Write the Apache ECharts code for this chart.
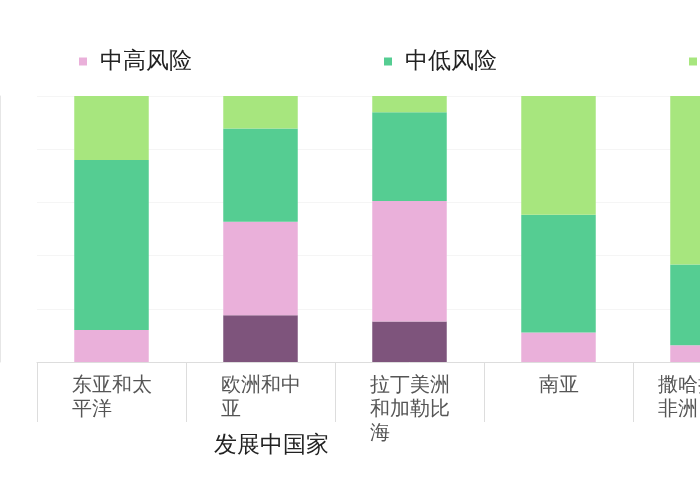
<!DOCTYPE html>
<html>
<head>
<meta charset="utf-8">
<script src="https://cdn.jsdelivr.net/npm/echarts@6/dist/echarts.min.js"></script>
<style>
    html, body { margin: 0; padding: 0; overflow: hidden; width: 700px; height: 500px; background: #fff; }
    /* 图表比窗口宽，左右两边被裁掉一部分（跟原图一样） */
    #chart { position: absolute; left: -300px; top: 0; width: 1100px; height: 500px; }
</style>
</head>
<body>
<div id="chart"></div>
<script>
// 数据（百分比，从原图量出来的）
const categories = ['东亚和太\n平洋', '欧洲和中\n亚', '拉丁美洲\n和加勒比\n海', '南亚', '撒哈拉以南\n非洲'];
const seriesNames = ['高风险', '中高风险', '中低风险', '低风险'];
const highRisk = [0, 17.6, 15.2, 0, 0];
const midHighRisk = [12.0, 35.1, 45.3, 11.1, 6.3];
const midLowRisk = [63.9, 35.1, 33.4, 44.3, 30.4];
const lowRisk = [24.1, 12.2, 6.1, 44.6, 63.3];
const groupLabel = '发展中国家';

const colors = ['#7e547c', '#eab0da', '#55cd92', '#a7e67e'];
const seriesValues = [highRisk, midHighRisk, midLowRisk, lowRisk];

const chart = echarts.init(document.getElementById('chart'));

chart.setOption({
    animation: false,
    color: colors,
    legend: {
        data: seriesNames,
        left: 92,
        top: 45,
        icon: 'rect',
        itemWidth: 8,
        itemHeight: 8,
        itemGap: 192,
        textStyle: { fontSize: 23, color: '#222', padding: [0, 0, 0, 8] }
    },
    grid: {
        left: 337, // 窗口里 x=37
        top: 96,
        width: 745,
        height: 266
    },
    xAxis: {
        type: 'category',
        data: categories,
        axisLine: { lineStyle: { color: '#dddddd' } },
        axisTick: { show: true, length: 60, interval: 0, lineStyle: { color: '#dddddd' } },
        axisLabel: {
            interval: 0,
            margin: 11,
            color: '#555',
            fontSize: 20,
            lineHeight: 24,
            // 每行左对齐
            formatter: function (v) {
                return v.split('\n').map(s => '{a|' + s + '}').join('\n');
            },
            rich: {
                a: { align: 'left', fontSize: 20, lineHeight: 24, color: '#555' }
            }
        }
    },
    yAxis: {
        type: 'value',
        min: 0,
        max: 100,
        interval: 20,
        offset: 37,
        axisLine: { show: true, lineStyle: { color: '#e6e6e6' } },
        axisTick: { show: false },
        axisLabel: { show: false },
        splitLine: { lineStyle: { color: '#f5f5f5' } }
    },
    graphic: [{
        type: 'text',
        left: 514,
        top: 434,
        style: { text: groupLabel, fontSize: 23, fill: '#222' }
    }],
    series: seriesNames.map((name, i) => ({
        name: name,
        type: 'bar',
        stack: 'risk',
        barWidth: '50%',
        data: seriesValues[i],
        emphasis: { disabled: true }
    }))
});
</script>
</body>
</html>
